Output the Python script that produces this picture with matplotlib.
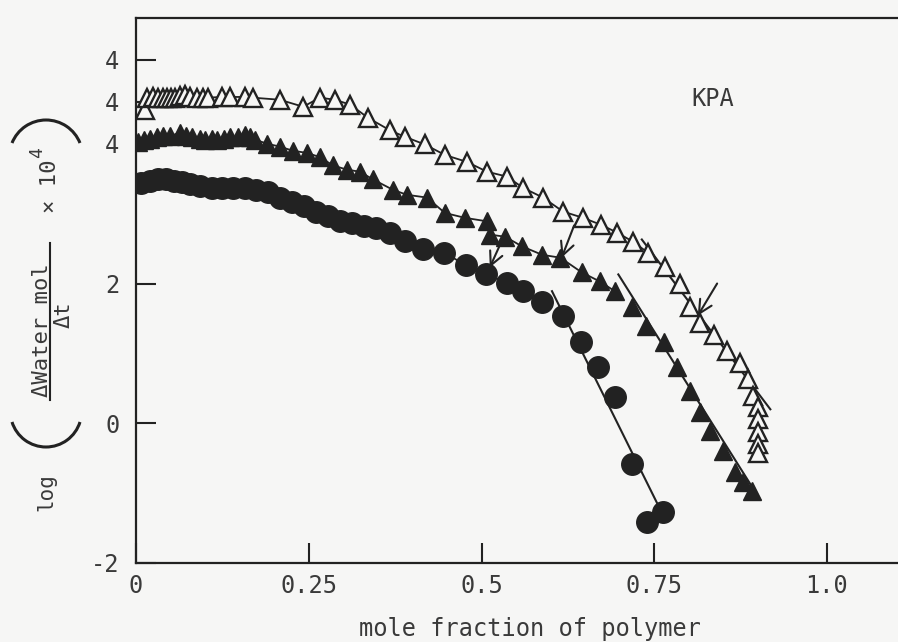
import numpy as np
import matplotlib
matplotlib.use("Agg")
import matplotlib.pyplot as plt
from matplotlib.patches import Arc
from matplotlib.lines import Line2D

plt.rcParams['font.family'] = ['DejaVu Sans Mono', 'DejaVu Sans']

# ---------------- data ----------------
# filled circles
circ_x = [0.007, 0.020, 0.032, 0.043, 0.055, 0.067, 0.078, 0.093, 0.110, 0.124,
          0.140, 0.158, 0.174, 0.191, 0.208, 0.226, 0.243, 0.260, 0.278, 0.295,
          0.313, 0.330, 0.347, 0.368, 0.389, 0.415, 0.446, 0.478, 0.507, 0.537,
          0.560, 0.588, 0.618, 0.644, 0.669, 0.693, 0.718, 0.740, 0.763]
circ_y = [3.44, 3.47, 3.49, 3.49, 3.47, 3.46, 3.43, 3.39, 3.37, 3.37,
          3.36, 3.37, 3.34, 3.31, 3.23, 3.17, 3.11, 3.03, 2.96, 2.90,
          2.87, 2.83, 2.79, 2.73, 2.61, 2.50, 2.44, 2.26, 2.13, 2.01,
          1.89, 1.73, 1.53, 1.17, 0.81, 0.37, -0.59, -1.41, -1.27]

# filled triangles
tri_x = [0.003, 0.012, 0.020, 0.030, 0.039, 0.049, 0.064, 0.072, 0.081, 0.093,
         0.100, 0.110, 0.117, 0.127, 0.136, 0.148, 0.158, 0.165, 0.172, 0.190,
         0.208, 0.227, 0.247, 0.266, 0.285, 0.305, 0.324, 0.343, 0.372, 0.392,
         0.421, 0.447, 0.476, 0.508, 0.512, 0.534, 0.559, 0.588, 0.614, 0.645,
         0.671, 0.693, 0.718, 0.738, 0.764, 0.783, 0.802, 0.816, 0.831, 0.850,
         0.867, 0.878, 0.891]
tri_y = [4.03, 4.06, 4.07, 4.10, 4.11, 4.11, 4.16, 4.11, 4.10, 4.07,
         4.06, 4.07, 4.06, 4.07, 4.09, 4.10, 4.13, 4.09, 4.06, 4.00,
         3.96, 3.90, 3.87, 3.81, 3.69, 3.63, 3.60, 3.49, 3.34, 3.27,
         3.23, 3.01, 2.94, 2.89, 2.70, 2.67, 2.53, 2.41, 2.37, 2.16,
         2.03, 1.89, 1.67, 1.39, 1.17, 0.81, 0.46, 0.16, -0.11, -0.40,
         -0.70, -0.84, -0.97]

# open triangles
opn_x = [0.013, 0.016, 0.025, 0.032, 0.039, 0.045, 0.051, 0.056, 0.064, 0.071,
         0.078, 0.088, 0.097, 0.104, 0.124, 0.136, 0.158, 0.169, 0.208, 0.242,
         0.266, 0.288, 0.310, 0.336, 0.368, 0.389, 0.418, 0.447, 0.479, 0.508,
         0.537, 0.560, 0.589, 0.618, 0.647, 0.673, 0.696, 0.719, 0.741, 0.766,
         0.787, 0.802, 0.816, 0.836, 0.855, 0.874, 0.886, 0.893, 0.900, 0.900,
         0.900, 0.900, 0.900]
opn_y = [4.49, 4.66, 4.67, 4.66, 4.66, 4.66, 4.66, 4.66, 4.69, 4.70,
         4.67, 4.66, 4.66, 4.66, 4.67, 4.67, 4.67, 4.66, 4.63, 4.53,
         4.66, 4.63, 4.56, 4.37, 4.19, 4.10, 3.99, 3.84, 3.74, 3.60,
         3.53, 3.37, 3.23, 3.03, 2.94, 2.84, 2.73, 2.60, 2.44, 2.23,
         1.99, 1.66, 1.44, 1.26, 1.04, 0.86, 0.63, 0.39, 0.23, 0.06,
         -0.13, -0.29, -0.43]

# straight fits on the steep part (start, end)
fit_circ_x, fit_circ_y = [0.602, 0.767], [1.89, -1.40]
fit_tri_x, fit_tri_y = [0.698, 0.903], [2.13, -1.09]
fit_opn_x, fit_opn_y = [0.732, 0.918], [2.63, 0.20]

# arrows (tip, tail)
arrow_tips = [(0.512, 2.23), (0.616, 2.37), (0.813, 1.54)]
arrow_tails = [(0.533, 2.69), (0.634, 2.83), (0.841, 2.00)]

ytick_vals = [-2, 0, 2, 4.0, 4.6, 5.2]
ytick_labels = ['-2', '0', '2', '4', '4', '4']
xtick_vals = [0, 0.25, 0.5, 0.75, 1.0]
xtick_labels = ['0', '0.25', '0.5', '0.75', '1.0']

ink = '#222222'
txt = '#3a3a3a'
bg = '#f6f6f5'

fig = plt.figure(figsize=(8.98, 6.42), dpi=100, facecolor=bg)
ax = fig.add_axes([136 / 898, 1 - 563 / 642, 1 - 136 / 898, (563 - 18) / 642])
ax.set_facecolor(bg)

# curves through the data, up to where the straight fit takes over
for xs, ys, fx in [(circ_x, circ_y, fit_circ_x), (tri_x, tri_y, fit_tri_x),
                   (opn_x, opn_y, fit_opn_x)]:
    xs = np.array(xs)
    ys = np.array(ys)
    m = xs <= fx[0] + 0.01
    ax.plot(xs[m], ys[m], color=ink, lw=1.3, zorder=2)

for fx, fy in [(fit_circ_x, fit_circ_y), (fit_tri_x, fit_tri_y), (fit_opn_x, fit_opn_y)]:
    ax.plot(fx, fy, color=ink, lw=1.5, zorder=2)

ax.plot(circ_x, circ_y, 'o', ms=15.5, color=ink, mec=ink, zorder=3)
ax.plot(tri_x, tri_y, '^', ms=12.5, color=ink, mec=ink, zorder=3)
ax.plot(opn_x, opn_y, '^', ms=12.5, mfc=bg, mec=ink, mew=1.7, zorder=3)

for tip, tail in zip(arrow_tips, arrow_tails):
    ax.annotate('', xy=tip, xytext=tail,
                arrowprops=dict(arrowstyle='->', color=ink, lw=1.5,
                                mutation_scale=24, shrinkA=0, shrinkB=0),
                zorder=4)

ax.text(0.835, 4.64, 'KPA', fontsize=17, color=txt, ha='center', va='center')

ax.set_xlim(0, (898 - 136) / 691)
ax.set_ylim(-2, (424 - 18) / 70)

ax.set_xticks(xtick_vals)
ax.set_xticklabels(xtick_labels)
ax.set_yticks(ytick_vals)
ax.set_yticklabels(ytick_labels)
ax.tick_params(direction='in', length=14.5, width=1.5, color=ink,
               labelsize=17, labelcolor=txt)
ax.tick_params(axis='y', pad=12)
ax.tick_params(axis='x', pad=8)
for s in ['left', 'bottom', 'top']:
    ax.spines[s].set_linewidth(1.6)
    ax.spines[s].set_color(ink)
ax.spines['right'].set_visible(False)

# x label
fig.text(530 / 898, 1 - 636 / 642, 'mole fraction of polymer', fontsize=17,
         color=txt, ha='center', va='baseline')


# y label, built from pieces (positions in figure pixels)
def fpos(x, y):
    return x / 898, 1 - y / 642


lab = dict(rotation=90, color=txt, ha='center', va='center')
fig.text(*fpos(46, 492), 'log', fontsize=15, **lab)
fig.text(*fpos(42, 330), '\u0394Water mol', fontsize=16, **lab)
fig.text(*fpos(64, 315), '\u0394t', fontsize=16, **lab)
fig.text(*fpos(50, 186), '\u00d7 10', fontsize=16, **lab)
fig.text(*fpos(37, 153), '4', fontsize=13, **lab)
fig.add_artist(Line2D([50 / 898, 50 / 898], [1 - 243 / 642, 1 - 400 / 642],
                      transform=fig.transFigure, color=ink, lw=1.5))
# big parentheses drawn as arcs (inches)
fig.add_artist(Arc((0.46, (642 - 411.4) / 100), 0.712, 0.712, theta1=197.3, theta2=342.7,
                   transform=fig.dpi_scale_trans, color=ink, lw=2.2))
fig.add_artist(Arc((0.46, (642 - 156.6) / 100), 0.732, 0.732, theta1=21.8, theta2=158.2,
                   transform=fig.dpi_scale_trans, color=ink, lw=2.2))

fig.savefig('out.png', dpi=100, facecolor=bg)
